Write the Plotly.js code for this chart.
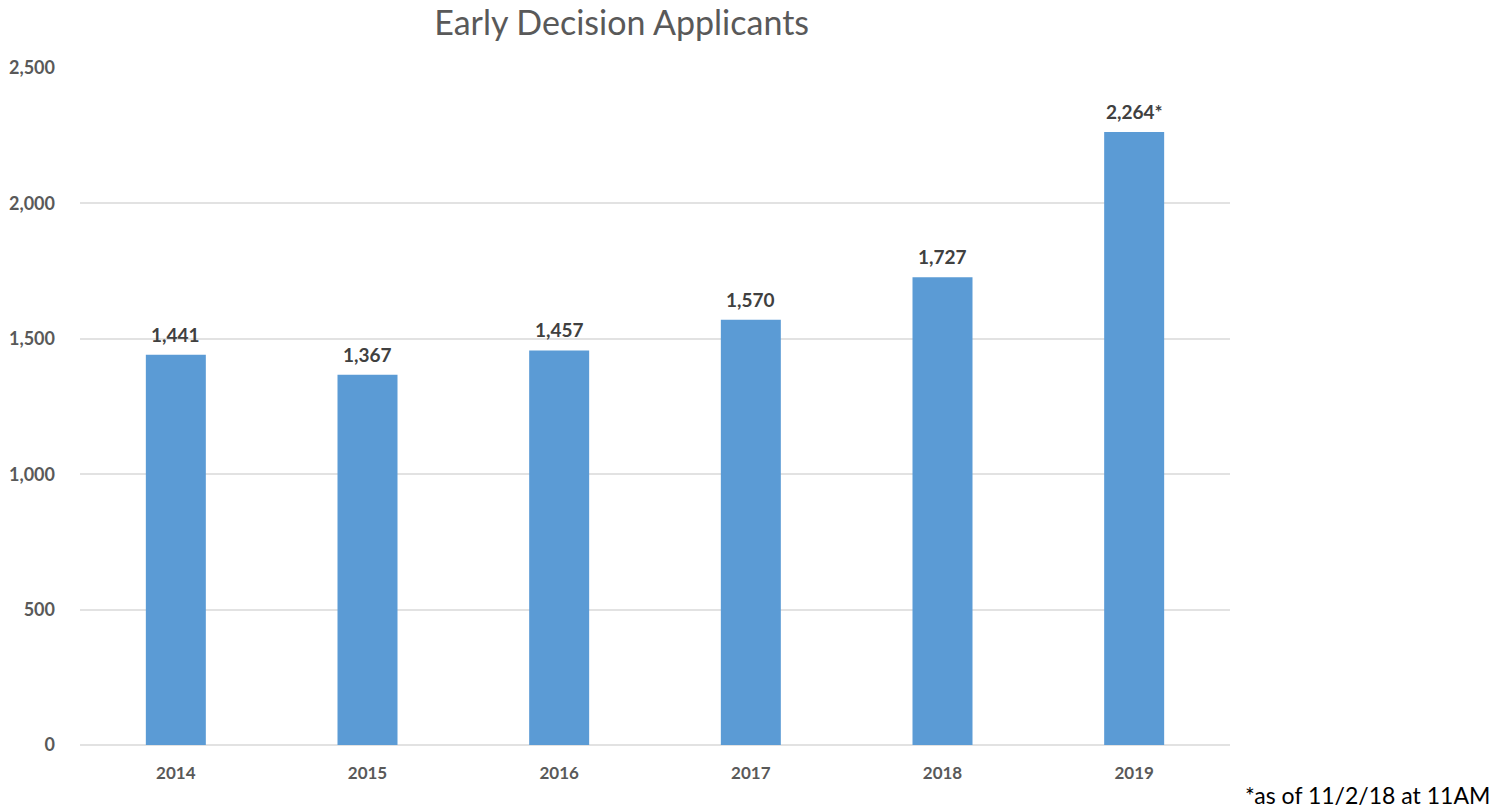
<!DOCTYPE html>
<html>
<head>
<meta charset="utf-8">
<script src="https://cdn.plot.ly/plotly-3.0.1.min.js"></script>
<style>html,body{margin:0;padding:0;background:#fff;}#chart{width:1493px;height:810px;}</style>
</head>
<body>
<div id="chart"></div>
<script>
const years = ["2014", "2015", "2016", "2017", "2018", "2019"];
const applicants = [1441, 1367, 1457, 1570, 1727, 2264];
const labelSuffix = ["", "", "", "", "", "*"];
const yTicks = [0, 500, 1000, 1500, 2000, 2500];
const titleText = "Early Decision Applicants";
const footnote = "*as of 11/2/18 at 11AM";

const labels = applicants.map((v, i) => v.toLocaleString("en-US") + labelSuffix[i]);
const FONT = "Lato, 'Open Sans', sans-serif";

const trace = {
  type: "bar",
  x: years,
  y: applicants,
  marker: {color: "#5b9bd5"},
  hoverinfo: "x+y"
};

// category axis: annotation x given as the category index
const valueLabels = years.map((yr, i) => ({
  text: "<b>" + labels[i] + "</b>",
  x: i, y: applicants[i],
  xref: "x", yref: "y",
  xanchor: "center", yanchor: "bottom",
  yshift: 7,
  showarrow: false,
  font: {family: FONT, size: 19, color: "#404040"}
}));

const layout = {
  width: 1493, height: 810,
  paper_bgcolor: "#ffffff", plot_bgcolor: "#ffffff",
  margin: {l: 80, r: 263, t: 68, b: 65},
  bargap: 0.687,
  showlegend: false,
  title: {
    text: titleText,
    x: 0.471, xanchor: "center", xref: "paper",
    y: 0.972, yanchor: "middle", yref: "container",
    font: {family: FONT, size: 34, color: "#595959"}
  },
  xaxis: {
    type: "category",
    categoryarray: years,
    range: [-0.5, years.length - 0.5],
    showgrid: false, zeroline: false, showline: false,
    ticks: "",
    ticklabelstandoff: 16,
    tickfont: {family: FONT, size: 17, color: "#595959", weight: "bold"}
  },
  yaxis: {
    range: [0, 2500],
    tickvals: yTicks,
    ticktext: yTicks.map(v => v.toLocaleString("en-US")),
    showgrid: true, gridcolor: "#e2e2e2", gridwidth: 2,
    zeroline: true, zerolinecolor: "#e2e2e2", zerolinewidth: 2,
    showline: false, ticks: "",
    ticklabelstandoff: 24,
    tickfont: {family: FONT, size: 18, color: "#595959", weight: "bold"}
  },
  annotations: valueLabels.concat([{
    text: footnote,
    xref: "paper", yref: "paper",
    x: 1.228, y: -0.0739,
    xanchor: "right", yanchor: "middle",
    showarrow: false,
    font: {family: FONT, size: 23, color: "#000000"}
  }])
};

Plotly.newPlot("chart", [trace], layout, {displayModeBar: false, staticPlot: true});
</script>
</body>
</html>
